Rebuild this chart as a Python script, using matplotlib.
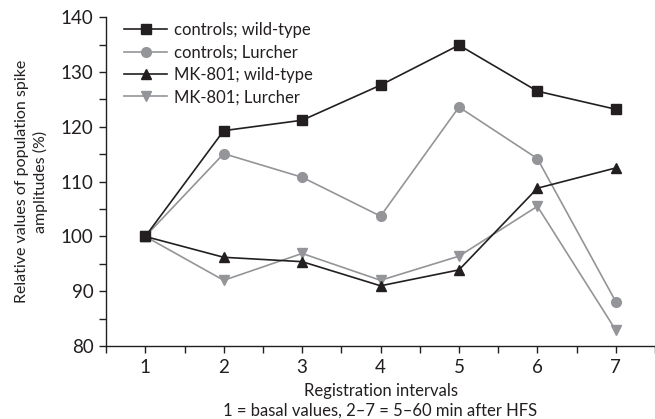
import matplotlib
matplotlib.use("Agg")
import matplotlib.pyplot as plt
from matplotlib.ticker import MultipleLocator

plt.rcParams['font.family'] = ['Lato', 'DejaVu Sans']

intervals = [1, 2, 3, 4, 5, 6, 7]
ctrl_wt = [100, 119.3, 121.2, 127.6, 134.9, 126.5, 123.2]
ctrl_lc = [100, 115.1, 110.8, 103.7, 123.6, 114.2, 88.1]
mk_wt = [100, 96.2, 95.4, 91.0, 93.9, 108.8, 112.5]
mk_lc = [100, 92.0, 96.9, 92.0, 96.4, 105.5, 82.9]

labels = ["controls; wild-type", "controls; Lurcher", "MK-801; wild-type", "MK-801; Lurcher"]
black = "#231f20"
gray = "#939598"

fig = plt.figure(figsize=(6.55, 4.19), dpi=100)
ax = fig.add_axes([0.162, 0.174, 0.838, 0.785])

ax.plot(intervals, ctrl_wt, color=black, marker='s', ms=6.5, lw=1.2, label=labels[0], zorder=3)
ax.plot(intervals, ctrl_lc, color=gray, marker='o', ms=7, lw=1.2, label=labels[1], zorder=2)
ax.plot(intervals, mk_wt, color=black, marker='^', ms=7.5, lw=1.2, label=labels[2], zorder=3)
ax.plot(intervals, mk_lc, color=gray, marker='v', ms=7.5, lw=1.2, label=labels[3], zorder=2)

ax.set_xlim(0.5, 7.5)
ax.set_ylim(80, 140)
ax.set_xticks(intervals)
ax.xaxis.set_minor_locator(MultipleLocator(0.5))
ax.yaxis.set_major_locator(MultipleLocator(10))
ax.yaxis.set_minor_locator(MultipleLocator(5))
ax.tick_params(which='both', direction='out', color=black, width=1.0)
ax.tick_params(which='major', length=5, labelsize=13.5, labelcolor=black, pad=4)
ax.tick_params(which='minor', length=5)
for s in ['top', 'right']:
    ax.spines[s].set_visible(False)
for s in ['left', 'bottom']:
    ax.spines[s].set_color(black)
    ax.spines[s].set_linewidth(1.0)

ax.set_ylabel("Relative values of population spike\namplitudes (%)", fontsize=11.5, color=black,
              linespacing=1.35, labelpad=9)
ax.set_xlabel("Registration intervals\n1 = basal values, 2\u20137 = 5\u201360 min after HFS", fontsize=12,
              color=black, linespacing=1.3, labelpad=5)

leg = ax.legend(loc='upper left', bbox_to_anchor=(0.005, 1.03), frameon=False, fontsize=12,
                handlelength=2.6, labelspacing=0.38, handletextpad=0.4, labelcolor=black)

fig.savefig("out.png", dpi=100)
